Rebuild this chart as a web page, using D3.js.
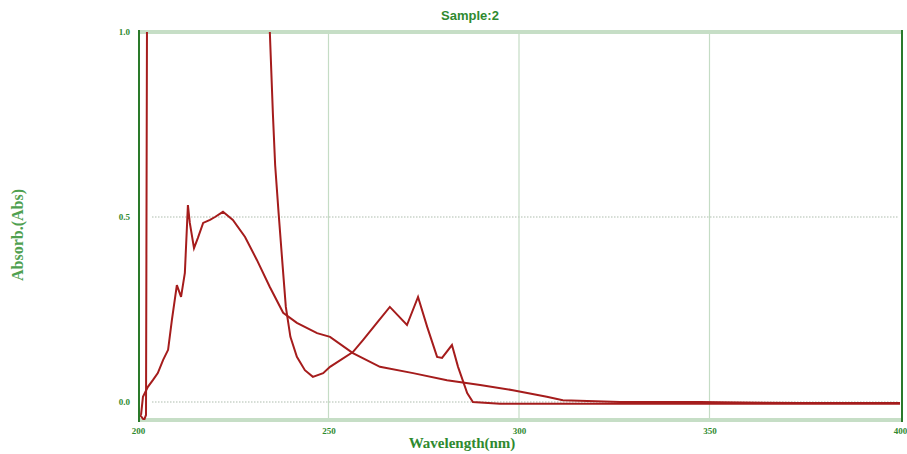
<!DOCTYPE html>
<html>
<head>
<meta charset="utf-8">
<script src="https://cdn.jsdelivr.net/npm/d3@7"></script>
<style>
  body { margin: 0; background: #fff; }
  svg text { font-family: "Liberation Serif", serif; }
</style>
</head>
<body>
<svg id="chart" width="907" height="454"></svg>
<script>
// wavelength ticks and absorbance ticks
const xTicks = [200, 250, 300, 350, 400];
const yTicks = [0.0, 0.5, 1.0];

// series A (rising with wiggles, broad hump, slow tail)
const aWl  = [200.8, 201.3, 202.6, 203.9, 205.2, 206.6, 207.9, 208.9, 210.2, 211.3, 212.3, 213.1, 213.6, 214.7, 215.7, 217.1, 218.9, 220.2, 222.3, 224.9, 228.1, 231.2, 234.6, 238.1, 241.7, 247.0, 250.4, 256.4, 263.5, 272.2, 281.1, 289.8, 298.4, 307.3, 311.5, 326.5, 347.5, 373.8, 400];
const aAbs = [-0.035, 0.014, 0.041, 0.059, 0.078, 0.114, 0.141, 0.222, 0.316, 0.284, 0.349, 0.532, 0.484, 0.416, 0.443, 0.484, 0.492, 0.5, 0.514, 0.492, 0.446, 0.384, 0.311, 0.241, 0.214, 0.186, 0.176, 0.132, 0.095, 0.078, 0.059, 0.046, 0.032, 0.014, 0.005, 0.0, 0.0, -0.003, -0.003];

// series B (off scale in the deep UV, then three peaks)
const bWl  = [200.5, 201.6, 202.1, 202.5, 210, 225, 234.0, 234.6, 235.4, 236.0, 236.9, 237.9, 238.8, 240.0, 241.7, 243.8, 245.9, 248.6, 250.4, 256.4, 259.1, 262.7, 266.1, 270.6, 273.5, 275.9, 278.5, 279.8, 282.4, 284.0, 286.4, 287.9, 295.0, 321.3, 347.5, 373.8, 400];
const bAbs = [-0.035, -0.049, -0.035, 1.6, 1.8, 1.7, 1.3, 1.0, 0.78, 0.64, 0.511, 0.376, 0.257, 0.176, 0.122, 0.086, 0.068, 0.078, 0.095, 0.135, 0.168, 0.214, 0.257, 0.208, 0.284, 0.203, 0.122, 0.119, 0.154, 0.095, 0.024, 0.0, -0.005, -0.005, -0.005, -0.005, -0.005];

const svg = d3.select("#chart");
const pL = 138, pR = 902, pT = 32, pB = 420;

const x = d3.scaleLinear().domain([200, 400]).range([pL, pR - 2]);
const y = d3.scaleLinear().domain([0, 1]).range([402, pT]);

const green = "#2f8a2f";

// clip
svg.append("clipPath").attr("id", "plot")
  .append("rect").attr("x", pL).attr("y", pT).attr("width", pR - pL).attr("height", pB - pT);

// vertical grid
svg.append("g")
  .selectAll("line").data(xTicks.slice(1, -1)).join("line")
  .attr("x1", d => x(d)).attr("x2", d => x(d))
  .attr("y1", pT).attr("y2", pB)
  .attr("stroke", "#c5dcc5").attr("stroke-width", 1.2);

// horizontal grid (dotted)
svg.append("g")
  .selectAll("line").data(yTicks.slice(0, -1)).join("line")
  .attr("x1", pL + 14).attr("x2", pR - 4)
  .attr("y1", d => y(d)).attr("y2", d => y(d))
  .attr("stroke", "#c9d3c9").attr("stroke-width", 1.5)
  .attr("stroke-dasharray", "1.5,1.5");

// frame: light top/bottom bands, dark sides
svg.append("line").attr("x1", pL).attr("x2", pR).attr("y1", pT).attr("y2", pT)
  .attr("stroke", "#c6dec6").attr("stroke-width", 4);
svg.append("line").attr("x1", pL).attr("x2", pR).attr("y1", pB).attr("y2", pB)
  .attr("stroke", "#c6dec6").attr("stroke-width", 4);

const line = d3.line().x(d => x(d[0])).y(d => y(d[1]));

const plot = svg.append("g").attr("clip-path", "url(#plot)");
plot.append("path")
  .datum(d3.zip(aWl, aAbs))
  .attr("fill", "none").attr("stroke", "#a51c1c").attr("stroke-width", 2)
  .attr("d", line);
plot.append("path")
  .datum(d3.zip(bWl, bAbs))
  .attr("fill", "none").attr("stroke", "#a51c1c").attr("stroke-width", 2)
  .attr("d", line);

svg.append("line").attr("x1", pL + 1).attr("x2", pL + 1).attr("y1", pT - 2).attr("y2", pB + 2)
  .attr("stroke", "#2a7a2a").attr("stroke-width", 2);
svg.append("line").attr("x1", pR).attr("x2", pR).attr("y1", pT - 2).attr("y2", pB + 2)
  .attr("stroke", "#2a7a2a").attr("stroke-width", 2);

// axes (tick labels only)
const xAxis = svg.append("g").attr("transform", `translate(0,${pB})`)
  .call(d3.axisBottom(x).tickValues(xTicks).tickSize(0).tickPadding(8).tickFormat(d3.format("d")));
const yAxis = svg.append("g").attr("transform", `translate(${pL},0)`)
  .call(d3.axisLeft(y).tickValues(yTicks).tickSize(0).tickPadding(8).tickFormat(d3.format(".1f")));
[xAxis, yAxis].forEach(g => {
  g.select(".domain").remove();
  g.selectAll("text").attr("fill", green).style("font-size", "9px").style("font-weight", "bold")
    .style("font-family", "Liberation Serif, serif");
});

// titles
svg.append("text").attr("x", 470).attr("y", 20).attr("text-anchor", "middle")
  .attr("fill", green).style("font-size", "13px").style("font-weight", "bold")
  .style("font-family", "Liberation Sans, sans-serif")
  .text("Sample:2");
svg.append("text").attr("x", 462).attr("y", 448).attr("text-anchor", "middle")
  .attr("fill", green).style("font-size", "15px").style("font-weight", "bold")
  .text("Wavelength(nm)");
svg.append("text").attr("transform", "translate(23,235) rotate(-90)").attr("text-anchor", "middle")
  .attr("fill", "#4fa04f").style("font-size", "16px").style("font-weight", "bold")
  .text("Absorb.(Abs)");
</script>
</body>
</html>
